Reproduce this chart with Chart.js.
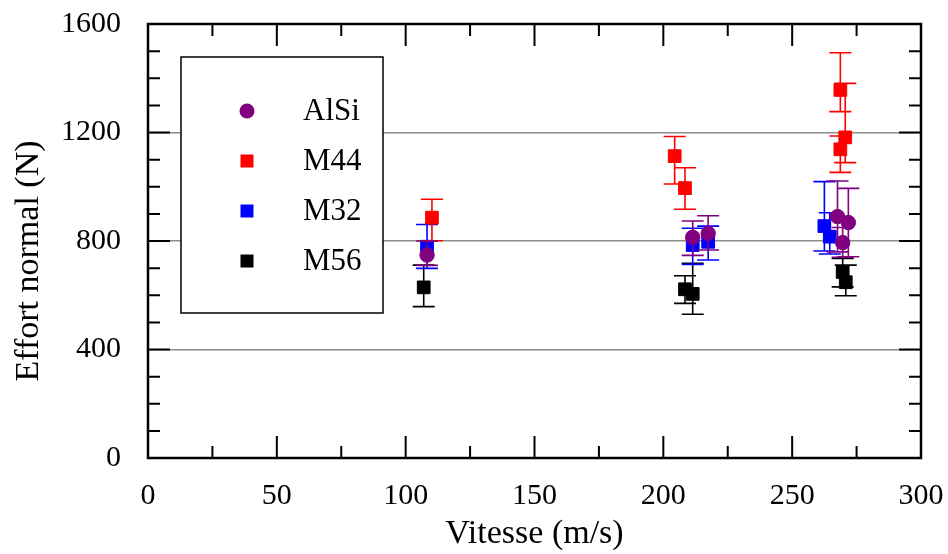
<!DOCTYPE html>
<html>
<head>
<meta charset="utf-8">
<script src="https://cdn.jsdelivr.net/npm/chart.js@4/dist/chart.umd.min.js"></script>
<style>
  html, body { margin: 0; padding: 0; background: #fff; }
  #wrap { width: 948px; height: 554px; }
</style>
</head>
<body>
<div id="wrap"><canvas id="c" width="948" height="554"></canvas></div>
<script>
// ---- data ----
const seriesNames = ["AlSi", "M44", "M32", "M56"];
const xTitle = "Vitesse (m/s)";
const yTitle = "Effort normal (N)";

const alsiX    = [108.3, 211.4, 217.4, 267.6, 271.8, 269.6];
const alsiY    = [748, 814, 828, 890, 868, 794];
const alsiLow  = [710, 747, 767, 760, 742, 740];
const alsiHigh = [800, 874, 893, 1021, 994, 850];

const m44X    = [110.2, 204.4, 208.4, 268.7, 270.6, 268.7];
const m44Y    = [886, 1113, 995, 1357, 1182, 1138];
const m44Low  = [801, 1010, 917, 1277, 1089, 1053];
const m44High = [954, 1185, 1070, 1494, 1381, 1187];

const m32X    = [108.3, 211.4, 217.4, 262.5, 264.6];
const m32Y    = [779, 785, 797, 855, 816];
const m32Low  = [699, 714, 730, 763, 752];
const m32High = [861, 847, 855, 1019, 904];

const m56X    = [107, 208.4, 211.4, 269.6, 270.8];
const m56Y    = [629, 622, 605, 686, 648];
const m56Low  = [558, 570, 530, 631, 598];
const m56High = [711, 672, 718, 736, 711];

const xTicks = [0, 50, 100, 150, 200, 250, 300];
const yTicks = [0, 400, 800, 1200, 1600];

// ---- helpers ----
function pts(xs, ys, lo, hi) {
  return xs.map((x, i) => ({ x: x, y: ys[i], lo: lo[i], hi: hi[i] }));
}
const FONT = "'Liberation Serif', 'Times New Roman', serif";

const datasets = [
  { label: seriesNames[0], data: pts(alsiX, alsiY, alsiLow, alsiHigh), color: "#800080", pointStyle: "circle", pointRadius: 7.2 },
  { label: seriesNames[1], data: pts(m44X, m44Y, m44Low, m44High), color: "#ff0000", pointStyle: "rect", pointRadius: 9 },
  { label: seriesNames[2], data: pts(m32X, m32Y, m32Low, m32High), color: "#0000ff", pointStyle: "rect", pointRadius: 9 },
  { label: seriesNames[3], data: pts(m56X, m56Y, m56Low, m56High), color: "#000000", pointStyle: "rect", pointRadius: 9 }
].map(d => ({
  label: d.label,
  data: d.data,
  showLine: false,
  pointStyle: d.pointStyle,
  pointRadius: d.pointRadius,
  pointHoverRadius: d.pointRadius,
  pointBackgroundColor: d.color,
  pointBorderColor: d.color,
  pointBorderWidth: 1,
  borderColor: d.color,
  backgroundColor: d.color
}));

// error bars drawn just before each dataset's points
const errorBars = {
  id: "errorBars",
  beforeDatasetDraw(chart, args) {
    const ds = chart.data.datasets[args.index];
    const xs = chart.scales.x, ys = chart.scales.y;
    const ctx = chart.ctx;
    ctx.save();
    ctx.strokeStyle = ds.borderColor;
    ctx.lineWidth = 1.6;
    ds.data.forEach(p => {
      const px = xs.getPixelForValue(p.x);
      const pl = ys.getPixelForValue(p.lo);
      const ph = ys.getPixelForValue(p.hi);
      const cap = 11;
      ctx.beginPath();
      ctx.moveTo(px, pl); ctx.lineTo(px, ph);
      ctx.moveTo(px - cap, pl); ctx.lineTo(px + cap, pl);
      ctx.moveTo(px - cap, ph); ctx.lineTo(px + cap, ph);
      ctx.stroke();
    });
    ctx.restore();
  }
};

// legend box inside the plot
const legendBox = {
  id: "legendBox",
  beforeDatasetsDraw(chart) {
    const ctx = chart.ctx;
    const L = 181, T = 57, W = 202, H = 256;
    ctx.save();
    ctx.fillStyle = "#fff";
    ctx.fillRect(L, T, W, H);
    ctx.strokeStyle = "#000";
    ctx.lineWidth = 1.5;
    ctx.strokeRect(L, T, W, H);
    chart.data.datasets.forEach((ds, i) => {
      const cy = 111 + i * 50;
      const cx = 247;
      ctx.fillStyle = ds.pointBackgroundColor;
      if (ds.pointStyle === "circle") {
        ctx.beginPath();
        ctx.arc(cx, cy, 7.5, 0, Math.PI * 2);
        ctx.fill();
      } else {
        ctx.fillRect(cx - 6.5, cy - 6.5, 13, 13);
      }
      ctx.fillStyle = "#000";
      ctx.font = "31px " + FONT;
      ctx.textBaseline = "middle";
      ctx.textAlign = "left";
      ctx.fillText(ds.label, 303, cy + 1);
    });
    ctx.restore();
  }
};

// frame, inward ticks on all four sides, and the y-axis title
const frame = {
  id: "frame",
  afterDraw(chart) {
    const ctx = chart.ctx;
    const a = chart.chartArea;
    const xs = chart.scales.x, ys = chart.scales.y;
    ctx.save();
    ctx.strokeStyle = "#000";
    ctx.lineWidth = 2;
    ctx.beginPath();
    for (let v = 25; v < 300; v += 25) {
      const px = xs.getPixelForValue(v);
      const len = (v % 50 === 0) ? 22 : 12;
      ctx.moveTo(px, a.bottom); ctx.lineTo(px, a.bottom - len);
      ctx.moveTo(px, a.top); ctx.lineTo(px, a.top + len);
    }
    for (let v = 100; v < 1600; v += 100) {
      const py = ys.getPixelForValue(v);
      const len = (v % 400 === 0) ? 22 : 12;
      ctx.moveTo(a.left, py); ctx.lineTo(a.left + len, py);
      ctx.moveTo(a.right, py); ctx.lineTo(a.right - len, py);
    }
    ctx.stroke();
    ctx.lineWidth = 2.5;
    ctx.strokeRect(a.left, a.top, a.right - a.left, a.bottom - a.top);

    ctx.translate(29, 261);
    ctx.rotate(-Math.PI / 2);
    ctx.fillStyle = "#000";
    ctx.font = "34px " + FONT;
    ctx.textAlign = "center";
    ctx.textBaseline = "middle";
    ctx.fillText(yTitle, 0, 0);
    ctx.restore();
  }
};

new Chart(document.getElementById("c"), {
  type: "scatter",
  data: { datasets: datasets },
  options: {
    responsive: false,
    animation: false,
    events: [],
    layout: { padding: { top: 24, right: 27, left: 0, bottom: 0 } },
    plugins: { legend: { display: false }, tooltip: { enabled: false } },
    scales: {
      x: {
        type: "linear",
        min: 0, max: 300,
        afterFit(s) { s.height = 96; s.paddingLeft = 0; s.paddingRight = 0; },
        afterBuildTicks(s) { s.ticks = xTicks.map(v => ({ value: v })); },
        grid: { display: false, drawTicks: false },
        border: { display: false },
        ticks: { color: "#000", padding: 20, font: { family: FONT, size: 30 }, maxRotation: 0, callback: v => String(v) },
        title: { display: true, text: xTitle, color: "#000", font: { family: FONT, size: 34, lineHeight: 1.2 }, padding: { top: 0, bottom: 0 } }
      },
      y: {
        type: "linear",
        min: 0, max: 1600,
        afterFit(s) { s.width = 148; s.paddingTop = 0; s.paddingBottom = 0; },
        afterBuildTicks(s) { s.ticks = yTicks.map(v => ({ value: v })); },
        grid: {
          drawTicks: false,
          color: c => (c.tick && (c.tick.value === 0 || c.tick.value === 1600)) ? "rgba(0,0,0,0)" : "#8c8c8c",
          lineWidth: 1.5
        },
        border: { display: false },
        ticks: { color: "#000", padding: 27, font: { family: FONT, size: 30 }, callback: v => String(v) },
        title: { display: false }
      }
    }
  },
  plugins: [errorBars, legendBox, frame]
});
</script>
</body>
</html>
